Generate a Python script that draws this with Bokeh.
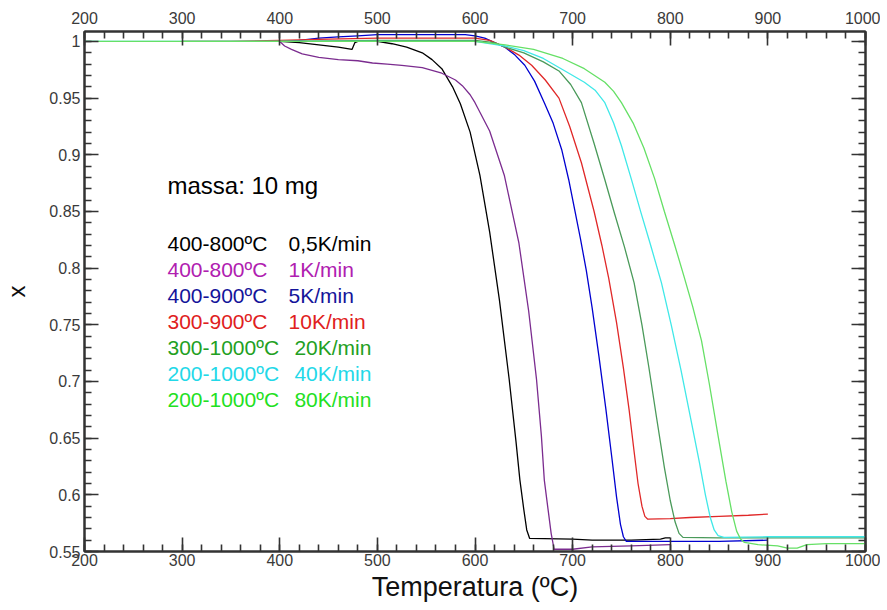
from bokeh.plotting import figure
from bokeh.models import (LinearAxis, SingleIntervalTicker, CustomJSTickFormatter,
                          Label, Range1d)
from bokeh.embed import file_html
from bokeh.resources import INLINE

# ---------------- data ----------------
t_black = [400, 420, 440, 460, 474, 477, 480, 500, 515, 530, 546, 556, 566, 577, 585,
           595, 605, 615, 625, 635, 642, 646, 650, 653, 656, 700, 720, 760, 790, 795, 800]
x_black = [1.000, 0.999, 0.997, 0.995, 0.993, 0.999, 1.000, 1.000, 0.998, 0.995, 0.990,
           0.984, 0.976, 0.960, 0.945, 0.920, 0.882, 0.832, 0.772, 0.702, 0.647, 0.613,
           0.587, 0.569, 0.5615, 0.561, 0.560, 0.560, 0.561, 0.562, 0.562]

t_purple = [400, 405, 412, 423, 440, 460, 480, 495, 510, 525, 546, 566, 580, 587, 595,
            600, 615, 630, 645, 655, 663, 668, 671, 675, 678, 681, 700, 720, 760, 800]
x_purple = [1.000, 0.996, 0.993, 0.989, 0.986, 0.984, 0.983, 0.981, 0.980, 0.979, 0.977,
            0.972, 0.966, 0.961, 0.953, 0.946, 0.921, 0.882, 0.822, 0.762, 0.702, 0.652,
            0.613, 0.586, 0.566, 0.552, 0.552, 0.554, 0.555, 0.556]

t_blue = [400, 420, 440, 460, 480, 500, 560, 590, 600, 610, 620, 631, 641, 651, 661, 671,
          680, 689, 696, 702, 708, 714, 720, 727, 734, 740, 745, 749, 752, 755, 800,
          850, 900]
x_blue = [1.000, 1.001, 1.003, 1.004, 1.005, 1.006, 1.006, 1.006, 1.005, 1.003, 0.999,
          0.9947, 0.988, 0.979, 0.965, 0.946, 0.928, 0.904, 0.878, 0.852, 0.826, 0.798,
          0.765, 0.722, 0.676, 0.634, 0.598, 0.574, 0.563, 0.559, 0.559, 0.559, 0.560]

t_red = [300, 350, 400, 450, 500, 560, 600, 615, 631, 645, 658, 672, 686, 697, 709, 722,
         730, 737, 745, 752, 758, 763, 767, 771, 774, 777, 800, 820, 850, 880, 900]
x_red = [1.000, 1.000, 1.001, 1.002, 1.003, 1.003, 1.003, 1.001, 0.995, 0.988, 0.979,
         0.966, 0.950, 0.925, 0.893, 0.850, 0.820, 0.791, 0.752, 0.712, 0.674, 0.638,
         0.610, 0.590, 0.581, 0.5785, 0.579, 0.580, 0.581, 0.582, 0.583]

t_green = [300, 400, 500, 600, 620, 631, 650, 670, 686, 698, 709, 722, 733, 743, 753, 763,
           771, 778, 786, 794, 800, 805, 809, 813, 850, 900, 1000]
x_green = [1.000, 1.000, 1.001, 1.001, 0.999, 0.995, 0.990, 0.982, 0.974, 0.962, 0.946,
           0.910, 0.878, 0.848, 0.819, 0.787, 0.750, 0.713, 0.668, 0.624, 0.595, 0.576,
           0.566, 0.5625, 0.562, 0.562, 0.562]

t_cyan = [200, 400, 600, 631, 650, 670, 690, 712, 723, 733, 742, 750, 760, 770, 780, 791,
          801, 811, 821, 830, 836, 841, 845, 849, 855, 900, 1000]
x_cyan = [1.000, 1.000, 1.000, 0.996, 0.992, 0.985, 0.975, 0.964, 0.957, 0.946, 0.928,
          0.908, 0.879, 0.849, 0.820, 0.787, 0.750, 0.710, 0.667, 0.628, 0.600, 0.580,
          0.569, 0.564, 0.5625, 0.563, 0.563]

t_lgreen = [200, 400, 600, 631, 660, 690, 712, 733, 742, 750, 762, 773, 784, 794, 804, 814,
            823, 832, 840, 849, 857, 863, 868, 872, 876, 890, 910, 920, 930, 940, 960, 1000]
x_lgreen = [1.000, 1.000, 1.000, 0.997, 0.993, 0.985, 0.976, 0.964, 0.956, 0.946, 0.928,
            0.906, 0.879, 0.850, 0.822, 0.793, 0.766, 0.736, 0.698, 0.652, 0.612, 0.585,
            0.568, 0.561, 0.558, 0.556, 0.555, 0.553, 0.553, 0.556, 0.557, 0.557]

line_colors = ["#000000", "#7b2c8f", "#0000d0", "#e02828", "#4a9a5a", "#40e8e8", "#66e066"]
text_colors = ["#000000", "#b020b0", "#14149a", "#e02020", "#22a022", "#22d8e8", "#22e022"]
curves = [(t_black, x_black), (t_purple, x_purple), (t_blue, x_blue), (t_red, x_red),
          (t_green, x_green), (t_cyan, x_cyan), (t_lgreen, x_lgreen)]

legend_ranges = ["400-800ºC", "400-800ºC", "400-900ºC", "300-900ºC",
                 "300-1000ºC", "200-1000ºC", "200-1000ºC"]
legend_rates = ["0,5K/min", "1K/min", "5K/min", "10K/min", "20K/min", "40K/min", "80K/min"]
mass_note = "massa: 10 mg"

x_title = "Temperatura (ºC)"
y_title = "x"

# ---------------- figure ----------------
FONT = "Liberation Sans"
p = figure(width=880, height=606, output_backend="svg", toolbar_location=None,
           x_axis_type=None, y_axis_type=None,
           x_range=Range1d(200, 1000), y_range=Range1d(0.55, 1.0088),
           min_border_left=81, min_border_right=15, min_border_top=31, min_border_bottom=55)
p.xgrid.visible = False
p.ygrid.visible = False
p.outline_line_color = "#333333"
p.outline_line_width = 2
p.background_fill_color = "white"
p.border_fill_color = "white"

yfmt = CustomJSTickFormatter(code="return String(Math.round(tick*100)/100);")
blank = CustomJSTickFormatter(code="return '';")


def style(ax):
    ax.major_tick_in = 14
    ax.major_tick_out = 0
    ax.minor_tick_in = 7
    ax.minor_tick_out = 0
    ax.major_tick_line_color = "#333333"
    ax.minor_tick_line_color = "#333333"
    ax.major_tick_line_width = 1.6
    ax.minor_tick_line_width = 1.6
    ax.axis_line_color = "#333333"
    ax.axis_line_width = 2
    ax.major_label_text_font = FONT
    ax.major_label_text_font_size = "16px"
    ax.major_label_text_color = "#3a3a3a"
    ax.axis_label_text_font = FONT
    ax.axis_label_text_font_style = "normal"
    ax.axis_label_text_color = "#111111"


bottom = LinearAxis(ticker=SingleIntervalTicker(interval=100, num_minor_ticks=5))
style(bottom)
bottom.major_label_standoff = 2
bottom.axis_label = x_title
bottom.axis_label_text_font_size = "27px"
bottom.axis_label_standoff = 3
p.add_layout(bottom, "below")

top = LinearAxis(ticker=SingleIntervalTicker(interval=100, num_minor_ticks=5))
style(top)
top.major_label_standoff = 8
p.add_layout(top, "above")

left = LinearAxis(ticker=SingleIntervalTicker(interval=0.05, num_minor_ticks=5), formatter=yfmt)
style(left)
left.major_label_standoff = 4
left.axis_label = y_title
left.axis_label_text_font_size = "24px"
left.axis_label_standoff = 16
p.add_layout(left, "left")

right = LinearAxis(ticker=SingleIntervalTicker(interval=0.05, num_minor_ticks=5), formatter=blank)
style(right)
right.major_label_standoff = 0
p.add_layout(right, "right")

for (tt, xx), c in zip(curves, line_colors):
    p.line(tt, xx, line_color=c, line_width=1.3)

# ---------------- annotations ----------------
col1_t = 285.0
col2_t = [409.0, 409.0, 409.0, 409.0, 415.0, 415.0, 415.0]
row0 = 0.8217
row_step = 0.02299

p.add_layout(Label(x=col1_t, y=0.8727, text=mass_note, text_font=FONT,
                   text_font_size="24px", text_color="#000000", text_baseline="middle"))
for i, (rng, rate) in enumerate(zip(legend_ranges, legend_rates)):
    yy = row0 - i * row_step
    p.add_layout(Label(x=col1_t, y=yy, text=rng, text_font=FONT, text_font_size="21px",
                       text_color=text_colors[i], text_baseline="middle"))
    p.add_layout(Label(x=col2_t[i], y=yy, text=rate, text_font=FONT, text_font_size="21px",
                       text_color=text_colors[i], text_baseline="middle"))

open("out.html", "w").write(file_html(p, INLINE))
